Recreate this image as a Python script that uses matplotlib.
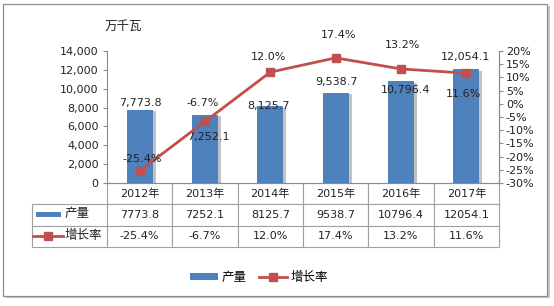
import matplotlib
matplotlib.use('Agg')

import numpy as np
import matplotlib.pyplot as plt
from matplotlib.patches import Rectangle
from matplotlib.lines import Line2D
from matplotlib.ticker import FuncFormatter, MultipleLocator
import matplotlib.patheffects as pe

plt.rcParams['font.family'] = ['DejaVu Sans', 'Noto Sans CJK SC']
plt.rcParams['font.size'] = 8

# data
years = ['2012年', '2013年', '2014年', '2015年', '2016年', '2017年']
output = [7773.8, 7252.1, 8125.7, 9538.7, 10796.4, 12054.1]
growth = [-25.4, -6.7, 12.0, 17.4, 13.2, 11.6]
unit = '万千瓦'
bar_name = '产量'
line_name = '增长率'

# label nudges in pixels (dx, dy), positive dy = up
bar_lab_off = [(1, 7), (3, -22), (-2, 0), (1, 11), (5, -9), (-1, 12)]
line_lab_off = [(3, 12), (-2, 18), (-2, 15), (3, 23), (2, 24), (-3, -21)]

blue = '#4F81BD'
red = '#C0504D'
gray = '#8C8C8C'
txt = '#222222'

fig = plt.figure(figsize=(5.54, 3.06), dpi=100)

# outer frame with shadow
fig.patches.append(Rectangle((6 / 554, 8 / 306), 544 / 554, 292 / 306, transform=fig.transFigure,
                             facecolor='#c8c8c8', edgecolor='none', zorder=-3))
fig.patches.append(Rectangle((3 / 554, 10 / 306), 544 / 554, 292 / 306, transform=fig.transFigure,
                             facecolor='white', edgecolor=gray, lw=0.9, zorder=-2))

ax = fig.add_axes([107 / 554, 1 - 183 / 306, 392 / 554, 132 / 306])
x = np.arange(len(years))

bars = ax.bar(x, output, width=0.4, color=blue, zorder=3,
              path_effects=[pe.SimplePatchShadow(offset=(2, -1), shadow_rgbFace='#9a9a9a', alpha=0.6),
                            pe.Normal()])
ax.set_xlim(-0.5, len(years) - 0.5)
ax.set_ylim(0, 14000)
ax.yaxis.set_major_locator(MultipleLocator(2000))
ax.yaxis.set_major_formatter(FuncFormatter(lambda v, p: f'{v:,.0f}'))
ax.set_xticks([])
for s in ['top']:
    ax.spines[s].set_visible(False)
for s in ['left', 'right', 'bottom']:
    ax.spines[s].set_color(gray)
    ax.spines[s].set_linewidth(0.8)
ax.tick_params(axis='y', direction='out', length=3, color=gray, labelcolor=txt, pad=3)

for xi, v, (dx, dy) in zip(x, output, bar_lab_off):
    ax.annotate(f'{v:,.1f}', (xi, v), xytext=(dx, dy), textcoords='offset pixels',
                ha='center', va='center', color=txt, fontsize=8, zorder=6)

ax2 = ax.twinx()
ax2.set_ylim(-30, 20)
ax2.yaxis.set_major_locator(MultipleLocator(5))
ax2.yaxis.set_major_formatter(FuncFormatter(lambda v, p: f'{v:.0f}%'))
for s in ['top', 'left', 'bottom']:
    ax2.spines[s].set_visible(False)
ax2.spines['right'].set_color(gray)
ax2.spines['right'].set_linewidth(0.8)
ax2.tick_params(axis='y', direction='out', length=3, color=gray, labelcolor=txt, pad=2)
ax2.plot(x, growth, color=red, lw=2, marker='s', markersize=6, zorder=4)
for xi, v, (dx, dy) in zip(x, growth, line_lab_off):
    ax2.annotate(f'{v:.1f}%', (xi, v), xytext=(dx, dy), textcoords='offset pixels',
                 ha='center', va='center', color=txt, fontsize=8, zorder=6)

ax.text(123 / 554, 1 - 26 / 306, unit, transform=fig.transFigure, ha='center', va='center',
        fontsize=9, color=txt)

# data table below the axis
cells = [[''] + years,
         [''] + [f'{v}' for v in output],
         [''] + [f'{v:.1f}%' for v in growth]]
tw = (499 - 32) / 392
tab = ax.table(cellText=cells, cellLoc='center',
               colWidths=[75] + [65.4] * len(years),
               bbox=[(32 - 107) / 392, -64 / 132, tw, 64 / 132])
tab.auto_set_font_size(False)
tab.set_fontsize(8)
for (r, c), cell in tab.get_celld().items():
    cell.set_edgecolor('#a0a0a0')
    cell.set_linewidth(0.8)
    cell.get_text().set_color(txt)
    if r == 0 and c == 0:
        cell.visible_edges = ''

# legend keys inside the table's row labels
fx = lambda px: px / 554
fy = lambda py: 1 - py / 306
fig.add_artist(Rectangle((fx(36), fy(217)), 25 / 554, 5 / 306, transform=fig.transFigure,
                         facecolor=blue, edgecolor='none'))
fig.text(fx(65), fy(214), bar_name, ha='left', va='center', fontsize=9, color=txt)
fig.add_artist(Line2D([fx(33), fx(63)], [fy(236), fy(236)], transform=fig.transFigure,
                      color=red, lw=2))
fig.add_artist(Line2D([fx(48)], [fy(236)], transform=fig.transFigure,
                      color=red, marker='s', markersize=6, lw=0))
fig.text(fx(65), fy(236), line_name, ha='left', va='center', fontsize=9, color=txt)

# bottom legend
h1 = Rectangle((0, 0), 1, 1, facecolor=blue, edgecolor='none')
h2 = Line2D([], [], color=red, lw=2, marker='s', markersize=6)
fig.legend([h1, h2], [bar_name, line_name], loc='center', bbox_to_anchor=(259 / 554, 1 - 277 / 306),
           ncol=2, frameon=False, fontsize=9, handlelength=2.2, handleheight=0.5,
           handletextpad=0.3, columnspacing=1.0)

fig.savefig('out.png', dpi=100)
